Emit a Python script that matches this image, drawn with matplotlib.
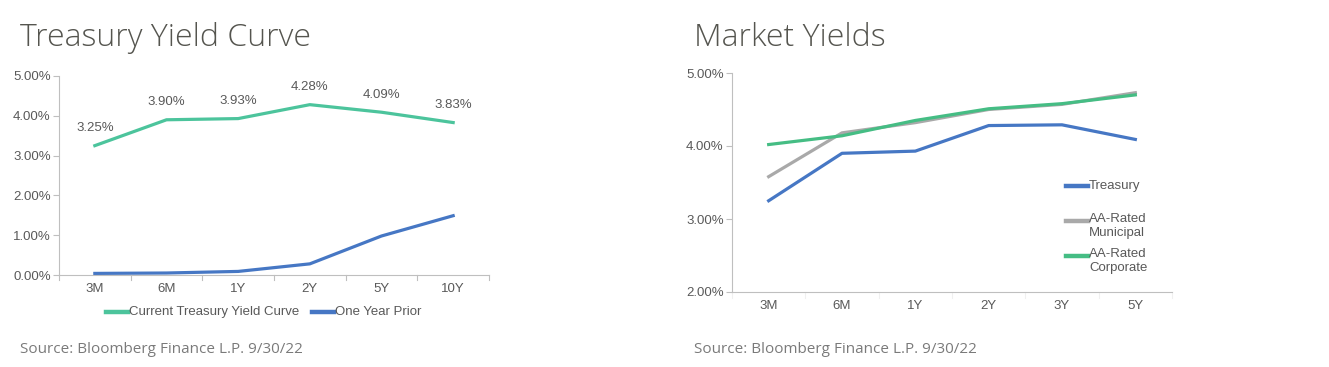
import matplotlib.pyplot as plt
from matplotlib.ticker import FuncFormatter
from matplotlib import font_manager
from matplotlib.lines import Line2D

# data
tenors_left = ['3M', '6M', '1Y', '2Y', '5Y', '10Y']
current_curve = [3.25, 3.90, 3.93, 4.28, 4.09, 3.83]
year_prior = [0.04, 0.05, 0.09, 0.28, 0.98, 1.49]

tenors_right = ['3M', '6M', '1Y', '2Y', '3Y', '5Y']
treasury = [3.25, 3.90, 3.93, 4.28, 4.29, 4.09]
municipal = [3.58, 4.18, 4.32, 4.50, 4.57, 4.73]
corporate = [4.02, 4.14, 4.35, 4.51, 4.58, 4.70]

GREEN_L = '#4cc49c'
GREEN_R = '#45bd84'
BLUE = '#4677c4'
GREY = '#a9a9a9'
TXT = '#595959'
FS = 9.5

names = {f.name for f in font_manager.fontManager.ttflist}
narrow = 'Liberation Sans Narrow' if 'Liberation Sans Narrow' in names else 'Liberation Sans'
plt.rcParams['font.family'] = [narrow, 'DejaVu Sans']

fig = plt.figure(figsize=(13.29, 3.67), dpi=100)
W, H = 1329, 367


def box(x0, y0, x1, y1):
    return [x0 / W, 1 - y1 / H, (x1 - x0) / W, (y1 - y0) / H]


pct = FuncFormatter(lambda v, p: f'{v:.2f}%')


def style(ax):
    for s in ['top', 'right']:
        ax.spines[s].set_visible(False)
    for s in ['left', 'bottom']:
        ax.spines[s].set_color('#bfbfbf')
    ax.yaxis.set_major_formatter(pct)
    ax.tick_params(axis='y', colors=TXT, labelsize=FS, length=4, color='#bfbfbf', pad=2)
    ax.tick_params(axis='x', colors=TXT, labelsize=FS, length=0, pad=6)


def legend_item(px, py, color, label, dy=0):
    # legend swatch + text in figure pixel coords
    fig.add_artist(Line2D([px / W, (px + 22) / W], [1 - py / H, 1 - py / H],
                          color=color, lw=3.2, transform=fig.transFigure))
    fig.text((px + 23) / W, 1 - (py - dy) / H, label, color=TXT, fontsize=FS,
             va='top' if '\n' in label else 'center', linespacing=1.2)


# --- left chart ---
ax1 = fig.add_axes(box(59, 76, 489, 275))
x = range(len(tenors_left))
ax1.plot(x, current_curve, color=GREEN_L, lw=2.3)
ax1.plot(x, year_prior, color=BLUE, lw=2.3)
for i, v in enumerate(current_curve):
    ax1.annotate(f'{v:.2f}%', (i, v), xytext=(0, 12.5), textcoords='offset points',
                 ha='center', va='center', color=TXT, fontsize=FS)
ax1.set_xlim(-0.5, len(tenors_left) - 0.5)
ax1.set_ylim(0, 5)
ax1.set_yticks([0, 1, 2, 3, 4, 5])
ax1.set_xticks(list(x))
ax1.set_xticklabels(tenors_left)
style(ax1)
for t in [i - 0.5 for i in range(len(tenors_left) + 1)]:
    ax1.plot([t, t], [0, -0.12], color='#bfbfbf', lw=0.8, clip_on=False)
legend_item(106, 312, GREEN_L, 'Current Treasury Yield Curve')
legend_item(312, 312, BLUE, 'One Year Prior')

# --- right chart ---
ax2 = fig.add_axes(box(732, 73, 1172, 292))
x2 = range(len(tenors_right))
ax2.plot(x2, treasury, color=BLUE, lw=2.3)
ax2.plot(x2, municipal, color=GREY, lw=2.3)
ax2.plot(x2, corporate, color=GREEN_R, lw=2.3)
ax2.set_xlim(-0.5, len(tenors_right) - 0.5)
ax2.set_ylim(2, 5)
ax2.set_yticks([2, 3, 4, 5])
ax2.set_xticks(list(x2))
ax2.set_xticklabels(tenors_right)
style(ax2)
for t in [i - 0.5 for i in range(len(tenors_right) + 1)]:
    ax2.plot([t, t], [2, 1.92], color='#f0f0f0', lw=0.8, clip_on=False)
legend_item(1066, 186, BLUE, 'Treasury')
legend_item(1066, 221, GREY, 'AA-Rated\nMunicipal', dy=8)
legend_item(1066, 256, GREEN_R, 'AA-Rated\nCorporate', dy=8)

# titles and sources
for xp, title in [(20, 'Treasury Yield Curve'), (694, 'Market Yields')]:
    fig.text(xp / W, 1 - 46 / H, title, fontsize=23, color='#55554f',
             family=['Open Sans', 'DejaVu Sans'], fontweight='light')
    fig.text(xp / W, 1 - 353 / H, 'Source: Bloomberg Finance L.P. 9/30/22',
             fontsize=11, color='#7a7a7a', family=['Open Sans', 'DejaVu Sans'])

fig.savefig('out.png', dpi=100, facecolor='white')
